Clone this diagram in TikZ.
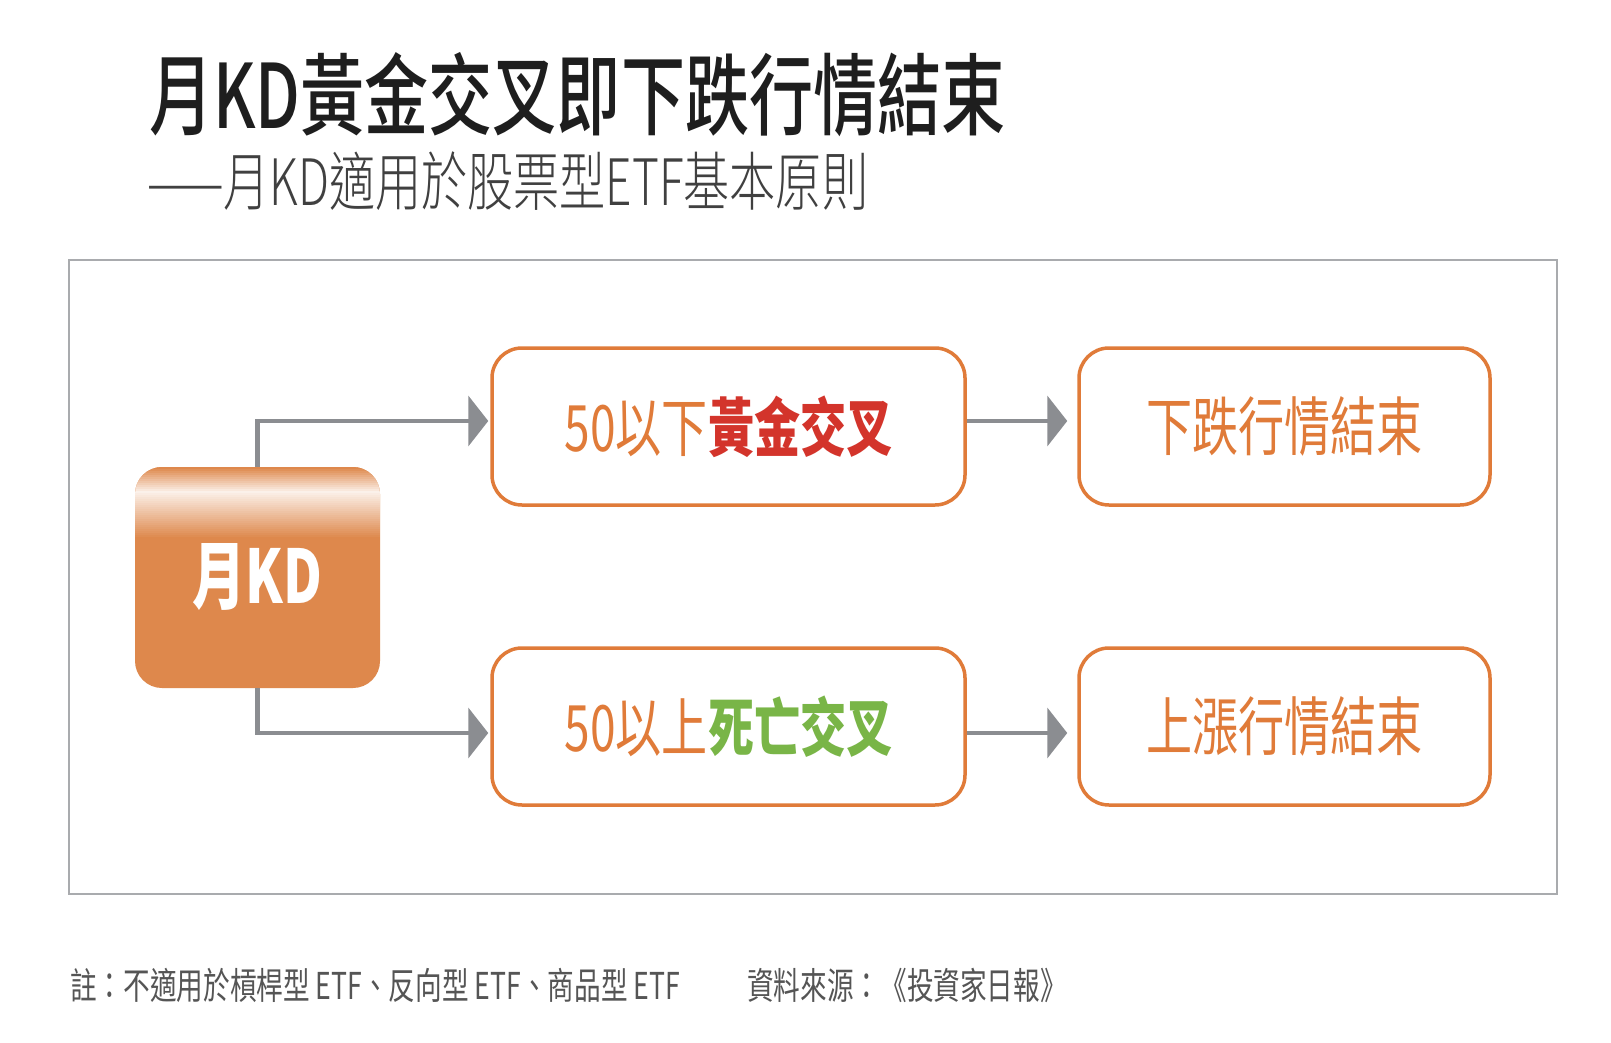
\documentclass[tikz,border=0pt]{standalone}
\usepackage{fontspec}
\usetikzlibrary{arrows.meta}

\newfontfamily\cjk[FakeStretch=0.72]{Noto Sans CJK TC}
\newfontfamily\cjkmedio[FakeStretch=0.72, UprightFont=* Medium]{Noto Sans CJK TC}
\newfontfamily\cjkleggero[FakeStretch=0.72, UprightFont=* Light]{Noto Sans CJK TC}

\definecolor{arancio}{HTML}{E07B39}
\definecolor{aranciopieno}{HTML}{DE884C}
\definecolor{grigiofreccia}{HTML}{8B8D91}
\definecolor{grigiocornice}{HTML}{A9ABAE}
\definecolor{rossoscritta}{HTML}{D3342B}
\definecolor{verdescritta}{HTML}{79B547}
\definecolor{nerotitolo}{HTML}{1E1E1E}
\definecolor{grigiotesto}{HTML}{555555}

\begin{document}
\begin{tikzpicture}[x=100pt, y=100pt,
    casella/.style={draw=arancio, line width=3.5pt, rounded corners=30pt,
        minimum height=157pt, fill=white, text=arancio,
        font=\cjk\fontsize{64}{64}\selectfont},
    freccia/.style={draw=grigiofreccia, line width=4.5pt,
        -{Triangle[length=20pt, width=50pt]}},
    nota/.style={anchor=west, inner sep=0pt, text=grigiotesto,
        font=\cjk\fontsize{37}{37}\selectfont}]

    \fill[white] (0, 0) rectangle (16.11, -10.43);
    \useasboundingbox (0, 0) rectangle (16.11, -10.43);

    % -- Titolo e sottotitolo --
    \node[anchor=west, inner sep=0pt, text=nerotitolo,
          font=\cjkmedio\fontsize{89}{89}\selectfont] (titolo) at (1.49, -0.95)
          {月KD黃金交叉即下跌行情結束};
    \node[anchor=west, inner sep=0pt, text=nerotitolo!85,
          font=\cjkleggero\fontsize{64}{64}\selectfont] (sottotitolo) at (1.47, -1.81)
          {——月KD適用於股票型ETF基本原則};

    % Cornice grigia
    \draw[grigiocornice, line width=2pt] (0.69, -2.60) rectangle (15.57, -8.94);

    % -- Parte Sinistra: il blocco pieno, schiarito a strisce in alto --
    \node[fill=aranciopieno, rounded corners=27pt, minimum width=245pt,
          minimum height=221pt, text=white,
          font=\cjk\bfseries\fontsize{74}{74}\selectfont,
          path picture={
              \foreach \d in {0,2,...,70}{
                  \pgfmathsetmacro{\bianco}{\d<24 ? 88*\d/24 : max(0, 88*(70-\d)/46)}
                  \fill[sharp corners, white!\bianco!aranciopieno]
                      ([yshift={-\d}]path picture bounding box.north west)
                      rectangle ([yshift={-\d-2.4}]path picture bounding box.north east);
              }
              \node[text=white] at (path picture bounding box.center) {月KD};
          }] (mese) at (2.575, -5.775) {\phantom{月KD}};

    % -- Parte Destra: le quattro caselle --
    \node[casella, minimum width=473pt] (oro) at (7.285, -4.265)
          {50以下\textcolor{rossoscritta}{\bfseries 黃金交叉}};
    \node[casella, minimum width=411pt] (ribasso) at (12.845, -4.265)
          {下跌行情結束};
    \node[casella, minimum width=473pt] (morte) at (7.285, -7.265)
          {50以上\textcolor{verdescritta}{\bfseries 死亡交叉}};
    \node[casella, minimum width=411pt] (rialzo) at (12.845, -7.265)
          {上漲行情結束};

    % Frecce grigie
    \draw[freccia, shorten >=2pt] (mese.north) |- ([yshift=5.5pt]oro.west);
    \draw[freccia, shorten >=2pt] (mese.south) |- ([yshift=-6.5pt]morte.west);
    \draw[freccia, shorten >=10pt] ([yshift=5.5pt]oro.east) -- ([yshift=5.5pt]ribasso.west);
    \draw[freccia, shorten >=10pt] ([yshift=-6.5pt]morte.east) -- ([yshift=-6.5pt]rialzo.west);

    % -- Note in basso --
    \node[nota] (avvertenza) at (0.70, -9.855)
          {註：不適用於槓桿型 ETF、反向型 ETF、商品型 ETF};
    \node[nota] (fonte) at (7.47, -9.855)
          {資料來源：《投資家日報》};
\end{tikzpicture}
\end{document}
